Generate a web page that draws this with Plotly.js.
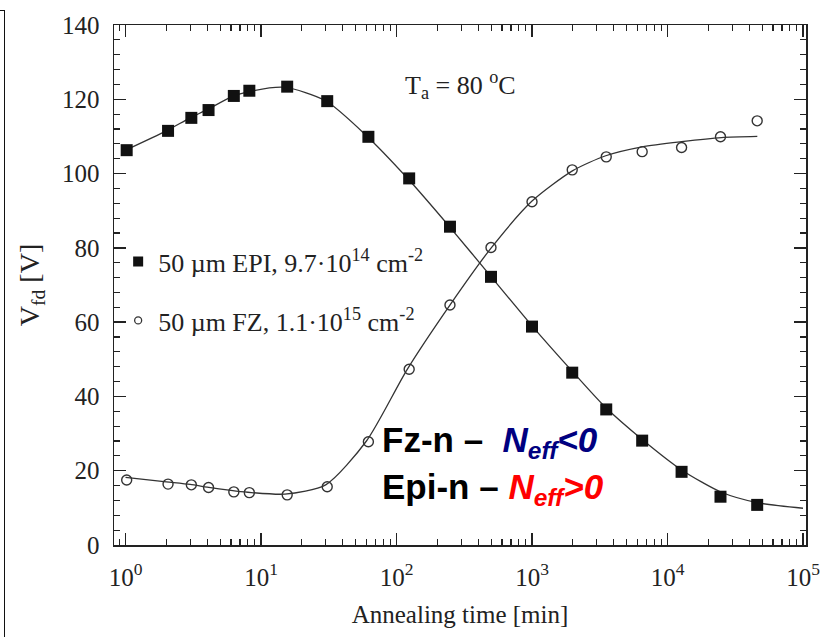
<!DOCTYPE html>
<html>
<head>
<meta charset="utf-8">
<script src="https://cdn.plot.ly/plotly-3.0.1.min.js"></script>
<style>
  html, body { margin: 0; padding: 0; background: #fff; }
  #wrap { position: relative; width: 838px; height: 637px; }
  #chart { width: 838px; height: 637px; }
  #frame { position: absolute; left: 0; top: 10px; width: 4px; height: 640px;
           border-top: 1.5px solid #111; border-right: 1.5px solid #111; pointer-events: none; }
</style>
</head>
<body>
<div id="wrap">
  <div id="chart"></div>
  <div id="frame"></div>
</div>
<script>
// ---- data ----
const epiTime = [1.02, 2.06, 3.06, 4.1, 6.3, 8.2, 15.6, 30.8, 62, 124, 248, 498, 1000, 1980, 3530, 6500, 12700, 24600, 45900];
const epiVfd  = [106.3, 111.5, 115.0, 117.1, 120.9, 122.3, 123.4, 119.5, 109.9, 98.7, 85.7, 72.2, 58.8, 46.4, 36.5, 28.1, 19.7, 13.0, 10.8];

const fzTime = [1.02, 2.06, 3.06, 4.1, 6.3, 8.2, 15.6, 30.8, 62, 124, 248, 498, 1000, 1980, 3530, 6500, 12700, 24600, 45900];
const fzVfd  = [17.5, 16.4, 16.2, 15.5, 14.3, 14.1, 13.5, 15.7, 27.8, 47.3, 64.6, 80.1, 92.4, 101.0, 104.5, 105.9, 107.0, 109.9, 114.2];

// fitted curves
const epiFitTime = [1, 2, 3, 4, 6, 8, 15, 30, 60, 120, 250, 500, 1000, 2000, 3500, 6500, 12700, 25000, 46000, 100000];
const epiFitVfd  = [106.3, 111.5, 115.0, 117.2, 120.6, 122.0, 123.2, 119.6, 110.2, 98.8, 85.4, 72.2, 59.0, 46.6, 37.0, 28.4, 20.2, 14.2, 11.4, 9.9];

const fzFitTime = [1, 2, 3, 4, 6, 8, 15, 30, 60, 120, 250, 500, 1000, 2000, 3500, 6500, 12700, 25000, 46000];
const fzFitVfd  = [18.2, 17.0, 16.3, 15.6, 14.7, 14.2, 13.7, 16.2, 28.0, 47.3, 64.8, 80.0, 92.6, 100.8, 104.8, 107.2, 108.6, 109.7, 110.0];

const xTickVals  = [1, 10, 100, 1000, 10000, 100000];
const xTickText  = ['10<sup>0</sup>', '10<sup>1</sup>', '10<sup>2</sup>', '10<sup>3</sup>', '10<sup>4</sup>', '10<sup>5</sup>'];

const legendEpi = '50 µm EPI, 9.7·10<sup>14</sup> cm<sup>-2</sup>';
const legendFz  = '50 µm FZ, 1.1·10<sup>15</sup> cm<sup>-2</sup>';

// minor tick positions on the log axis (2..9 of every decade)
const xMinor = [0.9];
for (let d = 0; d < 5; d++) for (let k = 2; k <= 9; k++) xMinor.push(k * Math.pow(10, d));

const serif = 'Liberation Serif, Times New Roman, serif';
const sans = 'Liberation Sans, Arial, sans-serif';
const ink = '#222';

const traces = [
  { x: epiFitTime, y: epiFitVfd, mode: 'lines', line: { color: '#333', width: 1.3, shape: 'spline', smoothing: 0.7 },
    showlegend: false, hoverinfo: 'skip' },
  { x: fzFitTime, y: fzFitVfd, mode: 'lines', line: { color: '#333', width: 1.3, shape: 'spline', smoothing: 0.7 },
    showlegend: false, hoverinfo: 'skip' },
  { x: epiTime, y: epiVfd, mode: 'markers', name: legendEpi, legendgroup: 'epi', showlegend: false,
    marker: { symbol: 'square', size: 12, color: '#111' } },
  { x: fzTime, y: fzVfd, mode: 'markers', name: legendFz, legendgroup: 'fz', showlegend: false,
    marker: { symbol: 'circle-open', size: 10, color: '#333', line: { width: 1.4, color: '#333' } } },
  // legend entries
  { x: [null], y: [null], mode: 'markers', name: legendEpi, legendgroup: 'epi',
    marker: { symbol: 'square', size: 10, color: '#111' } },
  { x: [null], y: [null], mode: 'markers', name: legendFz, legendgroup: 'fz',
    marker: { symbol: 'circle-open', size: 7, color: '#333', line: { width: 1.3, color: '#333' } } }
];

const layout = {
  width: 838, height: 637,
  margin: { l: 114, r: 32, t: 25, b: 92 },
  paper_bgcolor: '#fff', plot_bgcolor: '#fff',
  font: { family: serif, size: 25, color: ink },
  xaxis: {
    type: 'log', range: [-0.085, 5.022],
    tickmode: 'array', tickvals: xTickVals, ticktext: xTickText,
    ticks: 'inside', ticklen: 12, tickwidth: 1.3, tickcolor: ink,
    mirror: 'ticks', showline: true, linewidth: 1.5, linecolor: ink,
    showgrid: false, zeroline: false,
    ticklabelstandoff: 9,
    tickfont: { family: serif, size: 25, color: ink },
    minor: { tickmode: 'array', tickvals: xMinor, ticks: 'inside', ticklen: 6, tickwidth: 1.1, tickcolor: ink, showgrid: false },
    title: { text: 'Annealing time [min]', font: { family: serif, size: 25, color: ink }, standoff: 16 }
  },
  yaxis: {
    range: [0, 140], dtick: 20, tick0: 0,
    ticks: 'inside', ticklen: 12, tickwidth: 1.3, tickcolor: ink,
    mirror: 'ticks', showline: true, linewidth: 1.5, linecolor: ink,
    showgrid: false, zeroline: false,
    ticklabelstandoff: 8,
    tickfont: { family: serif, size: 25, color: ink },
    minor: { dtick: 4, ticks: 'inside', ticklen: 6, tickwidth: 1.1, tickcolor: ink, showgrid: false },
    title: { text: 'V<sub>fd</sub> [V]', font: { family: serif, size: 28, color: ink }, standoff: 14 }
  },
  legend: {
    x: 0.006, y: 0.59, xanchor: 'left', yanchor: 'top',
    bgcolor: 'rgba(0,0,0,0)', borderwidth: 0,
    font: { family: serif, size: 26, color: ink },
    tracegroupgap: 22, itemwidth: 30, traceorder: 'grouped'
  },
  annotations: [
    { xref: 'paper', yref: 'paper', x: 0.501, y: 0.885, xanchor: 'center', yanchor: 'middle', showarrow: false,
      text: 'T<sub>a</sub> = 80 <sup>o</sup>C', font: { family: serif, size: 26, color: ink } },
    { xref: 'paper', yref: 'paper', x: 0.385, y: 0.198, xanchor: 'left', yanchor: 'middle', showarrow: false,
      text: '<b>Fz-n –  <span style="color:#000080"><i>N<sub>eff</sub>&lt;0</i></span></b>',
      font: { family: sans, size: 35, color: '#000' } },
    { xref: 'paper', yref: 'paper', x: 0.385, y: 0.108, xanchor: 'left', yanchor: 'middle', showarrow: false,
      text: '<b>Epi-n – <span style="color:#ff0000"><i>N<sub>eff</sub>&gt;0</i></span></b>',
      font: { family: sans, size: 35, color: '#000' } }
  ]
};

Plotly.newPlot('chart', traces, layout, { staticPlot: true, displayModeBar: false });
</script>
</body>
</html>
